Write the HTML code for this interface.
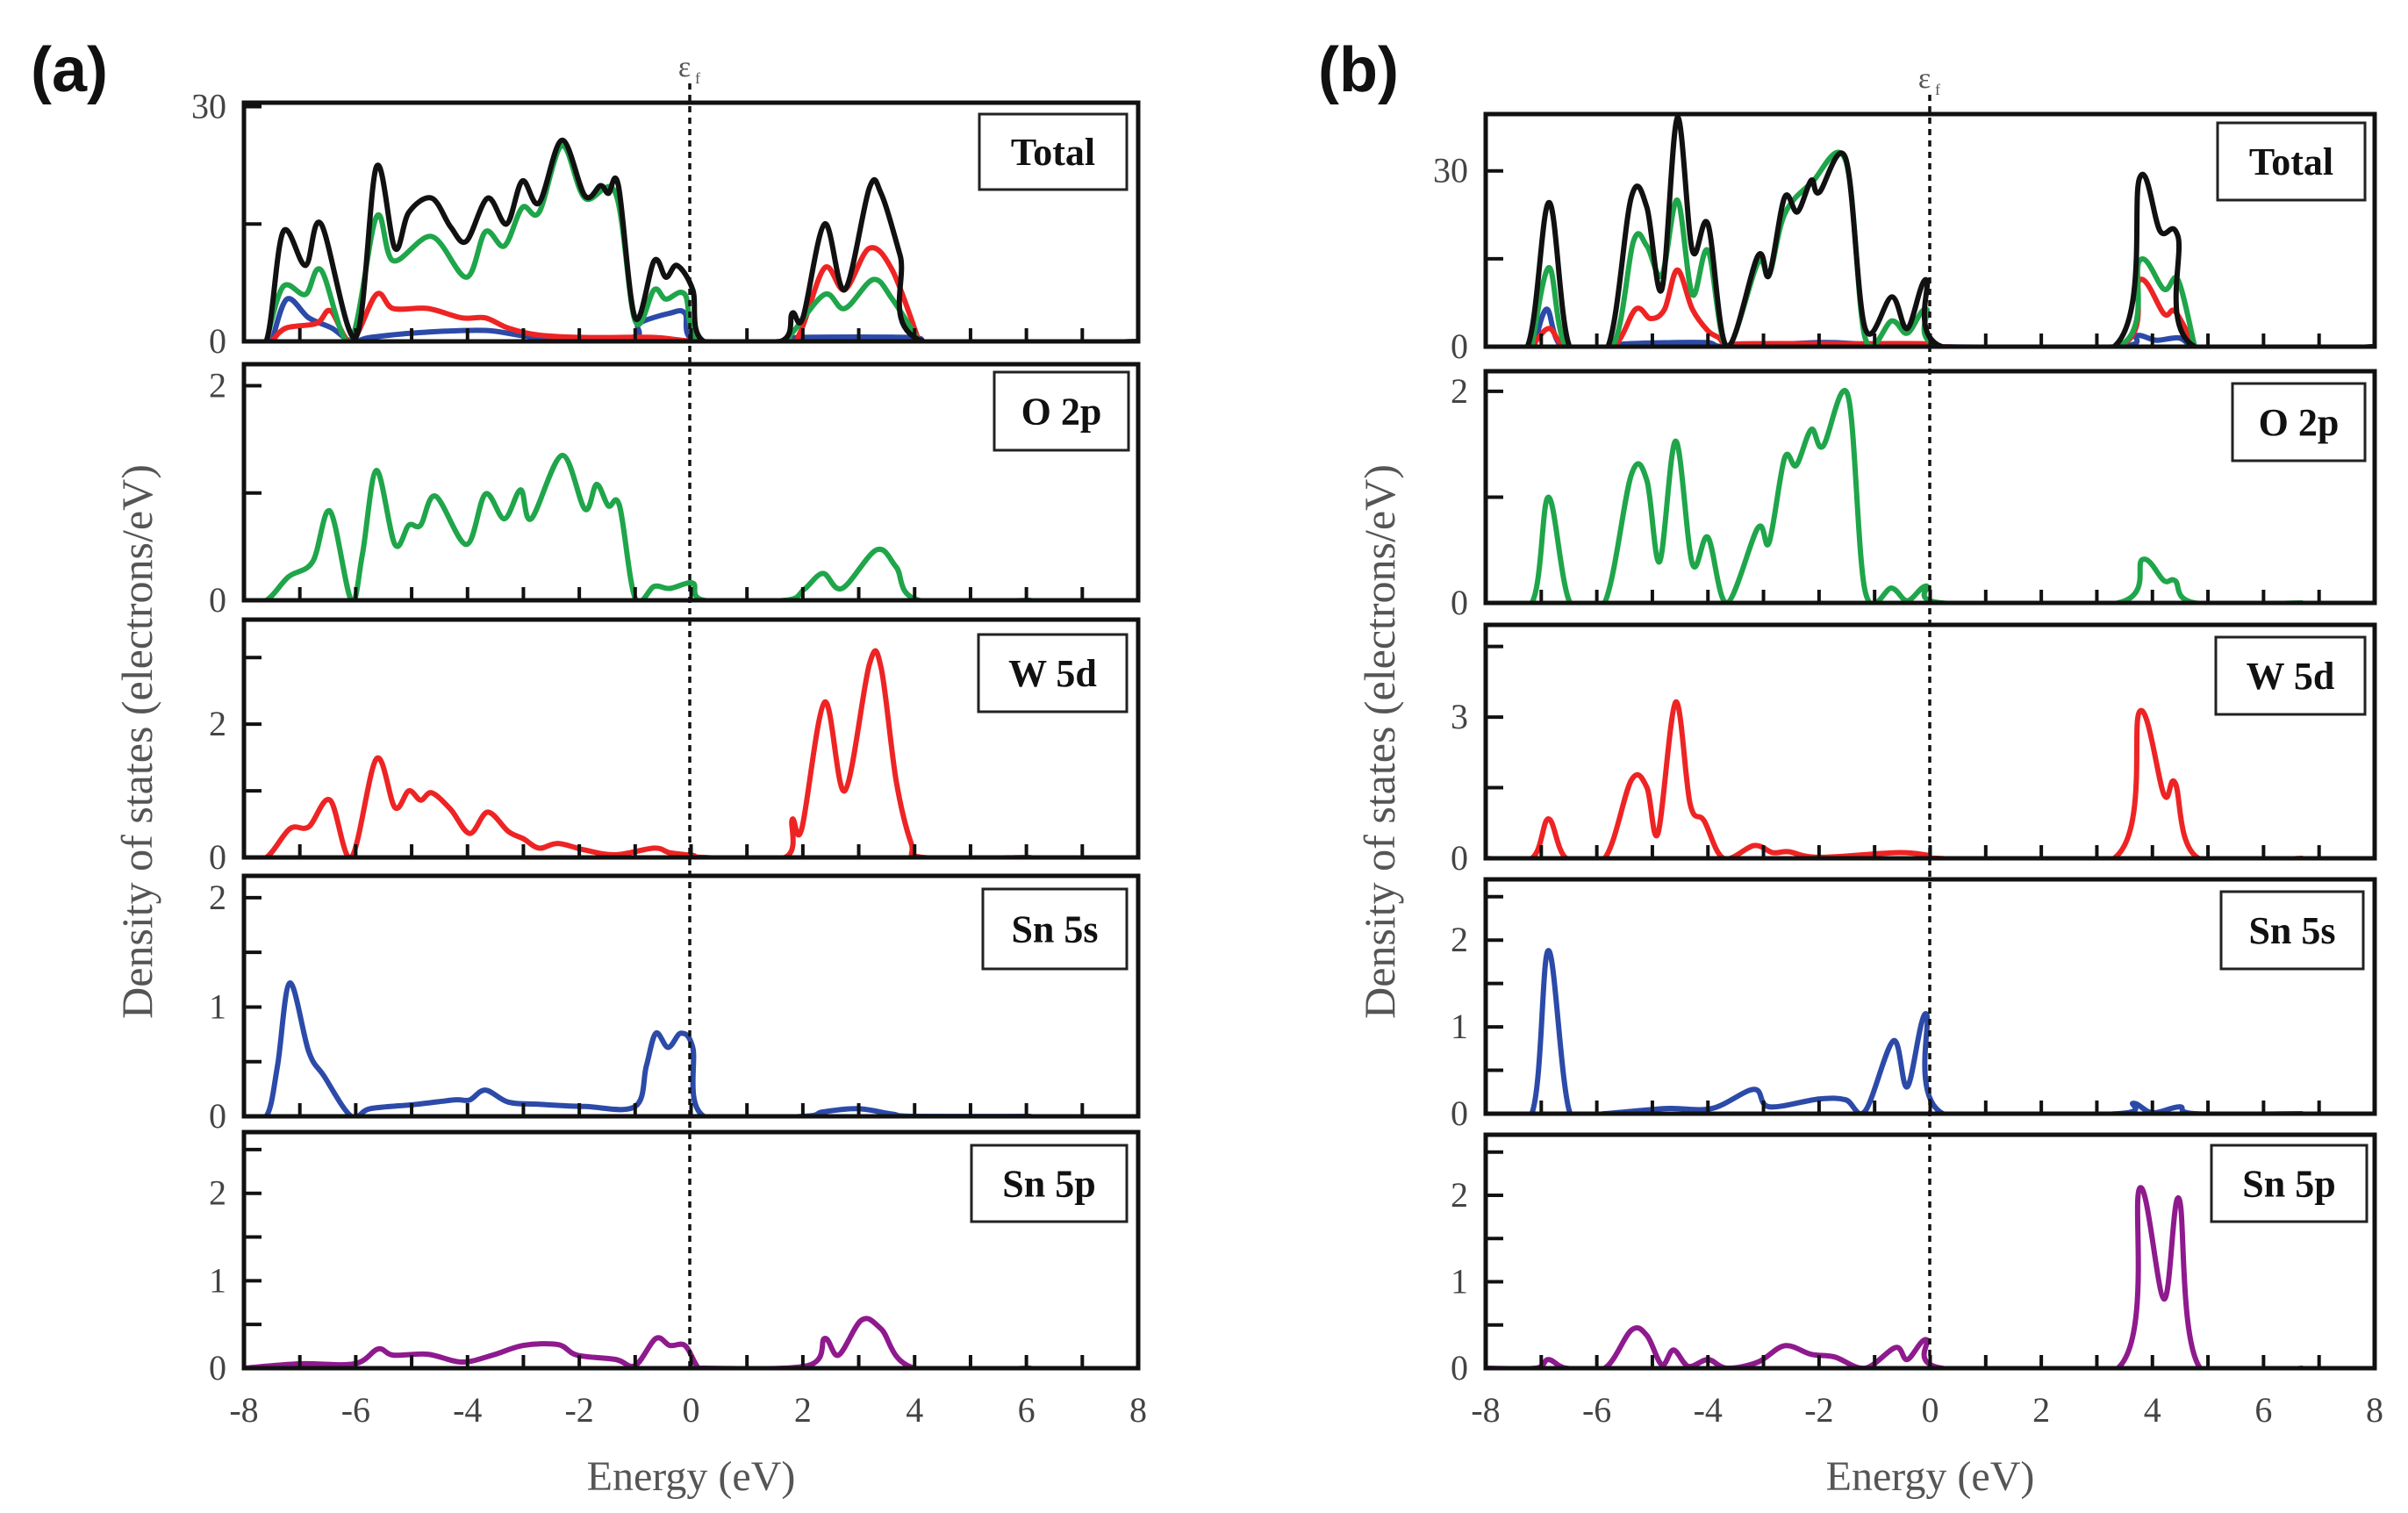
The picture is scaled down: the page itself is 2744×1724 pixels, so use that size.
<!DOCTYPE html>
<html><head><meta charset="utf-8"><style>
html,body{margin:0;padding:0;background:#fff;}
svg{display:block;}
text{font-family:"Liberation Serif",serif;}
text.tag{font-family:"Liberation Sans",sans-serif;}
</style></head><body>
<svg id="fig" width="2744" height="1724" viewBox="0 0 2744 1724" xmlns="http://www.w3.org/2000/svg"></svg>
<script>
// ---------- data: [energy eV, DOS] ----------
// Panel (a)
const aTotalBlack=[[-8,0],[-7.6,0],[-7.3,14],[-6.9,9.7],[-6.62,15],[-6.0,0.5],[-5.63,22.3],[-5.3,11.9],[-5.05,16.5],[-4.64,18.3],[-4.3,14.6],[-4.02,12.8],[-3.64,18.3],[-3.3,15],[-3.02,20.5],[-2.72,17.7],[-2.31,25.7],[-1.9,18.6],[-1.62,19.9],[-1.48,18.9],[-1.3,19.9],[-1.0,3.0],[-0.66,10.3],[-0.45,8.2],[-0.25,9.7],[0.03,6.6],[0.23,0],[1.6,0],[1.81,3.6],[2.0,3],[2.39,15],[2.75,6.6],[3.19,19.6],[3.4,18.9],[3.74,11],[4.15,0],[8,0]];
const aTotalGreen=[[-7.6,0],[-7.3,7],[-6.9,6],[-6.62,9.1],[-6.1,0],[-5.63,15.9],[-5.33,10.3],[-4.64,13.4],[-4.02,8.2],[-3.68,14],[-3.34,12.2],[-3.02,17.1],[-2.72,16.5],[-2.31,25],[-1.9,18.3],[-1.35,18.9],[-1.0,2.6],[-0.66,6.6],[-0.45,5.4],[-0.11,6],[0.17,0],[1.6,0],[1.81,1.1],[2.39,6],[2.75,4.2],[3.26,7.9],[3.6,5.4],[4.08,0]];
const aTotalRed=[[-7.5,0],[-7.25,1.7],[-6.7,2.3],[-6.45,3.9],[-6.08,0],[-5.63,6],[-5.33,4.2],[-4.71,4.2],[-4.1,3],[-3.68,3],[-3.27,1.7],[-2.72,0.8],[-1.9,0.5],[-0.66,0.5],[0.1,0],[1.68,0],[1.95,1.1],[2.39,9.4],[2.75,6.6],[3.19,11.9],[3.6,9.1],[4.08,0]];
const aTotalBlue=[[-7.5,0],[-7.23,5.4],[-6.84,3],[-6.43,1.7],[-6.08,0],[-5.74,0.5],[-4.91,1.1],[-3.68,1.4],[-2.72,0.5],[-1.07,0.5],[-0.93,2.3],[-0.38,3.6],[-0.11,3.6],[0.1,0],[1.7,0],[1.9,0.5],[3.9,0.5],[4.1,0]];
const aO2p=[[-8,0],[-7.6,0],[-7.2,0.22],[-6.77,0.36],[-6.46,0.83],[-6.08,0],[-5.88,0.43],[-5.63,1.21],[-5.3,0.52],[-5.05,0.7],[-4.84,0.7],[-4.57,0.97],[-4.02,0.52],[-3.68,0.99],[-3.34,0.76],[-3.05,1.03],[-2.86,0.76],[-2.31,1.35],[-1.9,0.85],[-1.69,1.08],[-1.48,0.88],[-1.28,0.88],[-1.0,0.02],[-0.66,0.13],[-0.38,0.11],[0.03,0.16],[0.23,0],[1.68,0],[2.02,0.1],[2.36,0.25],[2.7,0.11],[3.32,0.47],[3.67,0.31],[4.08,0],[6.07,0]];
const aW5d=[[-8,0],[-7.6,0],[-7.18,0.43],[-6.84,0.46],[-6.46,0.86],[-6.08,0],[-5.63,1.48],[-5.3,0.75],[-5.05,1.0],[-4.84,0.86],[-4.64,0.97],[-4.3,0.72],[-3.96,0.36],[-3.64,0.68],[-3.27,0.39],[-3.0,0.28],[-2.72,0.14],[-2.38,0.21],[-1.9,0.11],[-1.35,0.04],[-0.66,0.14],[-0.38,0.07],[0.03,0.03],[0.23,0],[1.68,0],[1.81,0.57],[1.98,0.43],[2.39,2.33],[2.75,1.0],[3.19,2.9],[3.4,2.85],[3.67,1.15],[3.94,0.21],[4.15,0],[6.07,0]];
const aSn5s=[[-8,0],[-7.6,0],[-7.4,0.46],[-7.18,1.22],[-6.84,0.59],[-6.57,0.37],[-6.08,0],[-5.74,0.07],[-4.91,0.11],[-4.23,0.15],[-3.96,0.15],[-3.68,0.24],[-3.27,0.13],[-2.72,0.11],[-1.9,0.09],[-1.0,0.09],[-0.8,0.46],[-0.63,0.76],[-0.41,0.63],[-0.18,0.76],[0.03,0.63],[0.23,0],[2.0,0],[2.36,0.04],[2.98,0.07],[3.6,0.02],[4.0,0],[6.07,0]];
const aSn5p=[[-8,0],[-7.0,0.05],[-6.02,0.05],[-5.6,0.22],[-5.33,0.15],[-4.71,0.16],[-4.1,0.07],[-3.55,0.15],[-3.0,0.26],[-2.38,0.27],[-2.04,0.15],[-1.35,0.1],[-1.0,0.03],[-0.63,0.34],[-0.38,0.26],[-0.11,0.26],[0.1,0.03],[0.23,0],[2.09,0.03],[2.39,0.34],[2.64,0.15],[3.05,0.55],[3.4,0.45],[4.0,0],[6.07,0]];
// Panel (b)
const bTotalBlack=[[-8,0],[-7.25,0],[-6.86,24.6],[-6.49,0],[-5.8,0],[-5.38,25.5],[-5.1,23.8],[-4.83,9.8],[-4.55,39.1],[-4.28,16.4],[-4.0,20.9],[-3.66,0],[-3.1,15.5],[-2.9,12.2],[-2.62,25.5],[-2.39,23],[-2.14,28.4],[-2.0,26.3],[-1.52,32.1],[-1.17,3.1],[-0.69,8.5],[-0.41,3.1],[-0.07,11.4],[0.21,0],[3.31,0],[3.77,28.8],[4.14,19.7],[4.46,18.8],[4.76,0],[8,0]];
const bTotalGreen=[[-7.17,0],[-6.86,13.5],[-6.55,0],[-5.72,0],[-5.34,18],[-5.1,17.2],[-4.83,12.2],[-4.55,25],[-4.28,8.9],[-4.0,16.4],[-3.66,0],[-3.1,14.3],[-2.9,12.2],[-2.62,22.6],[-2.14,27.9],[-1.52,31.7],[-1.17,1.5],[-0.69,4.4],[-0.41,2.3],[-0.07,6.4],[0.21,0],[3.38,0],[3.77,14.7],[4.21,9.8],[4.46,11.4],[4.76,0]];
const bTotalRed=[[-7.17,0],[-6.86,3.1],[-6.55,0],[-5.72,0],[-5.3,6.4],[-5.03,4.8],[-4.78,6.4],[-4.55,13.1],[-4.28,6.4],[-4.0,2.7],[-3.8,1.5],[-3.66,0],[-3.38,0.5],[-1.31,0.5],[-0.07,0.5],[0.21,0],[3.38,0],[3.77,11.4],[4.21,5.6],[4.41,6],[4.76,0]];
const bTotalBlue=[[-7.13,0],[-6.9,6.4],[-6.62,0],[-5.72,0],[-5.45,0.5],[-4.07,0.7],[-3.66,0],[-2.0,0.7],[-1.31,0.5],[0.21,0],[3.38,0],[3.72,1.9],[4.07,1.1],[4.48,1.5],[4.69,0]];
const bO2p=[[-8,0],[-7.17,0],[-6.87,1.0],[-6.48,0],[-5.86,0],[-5.38,1.21],[-5.1,1.16],[-4.87,0.39],[-4.58,1.53],[-4.28,0.37],[-4.0,0.62],[-3.66,0],[-3.1,0.71],[-2.9,0.57],[-2.62,1.37],[-2.41,1.3],[-2.14,1.64],[-1.93,1.48],[-1.48,1.96],[-1.17,0.11],[-0.69,0.14],[-0.41,0.02],[-0.07,0.16],[0.21,0],[3.38,0],[3.82,0.41],[4.21,0.21],[4.41,0.21],[4.76,0],[6.69,0]];
const bW5d=[[-8,0],[-7.17,0],[-6.87,0.84],[-6.55,0],[-5.86,0],[-5.38,1.66],[-5.1,1.51],[-4.9,0.53],[-4.58,3.32],[-4.32,1.15],[-4.07,0.8],[-3.72,0],[-3.17,0.27],[-2.83,0.12],[-2.55,0.14],[-2.0,0.02],[-0.62,0.12],[-0.07,0.07],[0.14,0],[3.31,0],[3.77,3.12],[4.21,1.35],[4.41,1.6],[4.83,0],[6.69,0]];
const bSn5s=[[-8,0],[-7.17,0],[-6.87,1.88],[-6.48,0],[-5.86,0],[-4.76,0.06],[-3.93,0.06],[-3.17,0.28],[-2.9,0.08],[-2.0,0.17],[-1.52,0.16],[-1.17,0.03],[-0.66,0.84],[-0.41,0.31],[-0.07,1.15],[0.23,0],[3.38,0],[3.66,0.12],[4.0,0.01],[4.49,0.08],[4.76,0],[6.69,0]];
const bSn5p=[[-8,0],[-7.1,0],[-6.87,0.1],[-6.55,0],[-5.86,0],[-5.38,0.44],[-5.1,0.38],[-4.83,0.04],[-4.62,0.21],[-4.35,0.02],[-4.0,0.1],[-3.66,0],[-3.1,0.07],[-2.62,0.26],[-2.14,0.16],[-1.72,0.13],[-1.17,0],[-0.62,0.24],[-0.41,0.1],[-0.07,0.33],[0.21,0],[3.38,0],[3.77,2.08],[4.21,0.8],[4.48,1.96],[4.86,0],[6.69,0]];
const xTickLabels=[-8,-6,-4,-2,0,2,4,6,8];

const NS="http://www.w3.org/2000/svg";
const svg=document.getElementById('fig');
function mk(tag,attrs,parent){const e=document.createElementNS(NS,tag);for(const k in attrs)e.setAttribute(k,attrs[k]);(parent||svg).appendChild(e);return e;}

const COL={black:'#111',green:'#1fa54a',red:'#ee2424',blue:'#2c4aa8',purple:'#8e1a8e'};

const panels=[
 {id:'a',x0:278,x1:1297,rows:[
  {name:'total',label:'Total',top:117,bot:389,max:30.5,ticks:[15,30],labels:[0,30],box:[1116,130,1284,216],series:[[aTotalBlue,'blue'],[aTotalRed,'red'],[aTotalGreen,'green'],[aTotalBlack,'black']]},
  {name:'o2p',label:'O 2p',top:415,bot:684,max:2.2,ticks:[1,2],labels:[0,2],box:[1133,424,1286,513],series:[[aO2p,'green']]},
  {name:'w5d',label:'W 5d',top:706,bot:977,max:3.57,ticks:[1,2,3],labels:[0,2],box:[1115,723,1284,811],series:[[aW5d,'red']]},
  {name:'sn5s',label:'Sn 5s',top:998,bot:1272,max:2.2,ticks:[0.5,1,1.5,2],labels:[0,1,2],box:[1120,1013,1284,1104],series:[[aSn5s,'blue']]},
  {name:'sn5p',label:'Sn 5p',top:1290,bot:1559,max:2.7,ticks:[0.5,1,1.5,2,2.5],labels:[0,1,2],box:[1107,1305,1284,1392],series:[[aSn5p,'purple']]}
 ],ylabX:157,tag:[79,'(a)'],ef:786},
 {id:'b',x0:1693,x1:2706,rows:[
  {name:'total',label:'Total',top:130,bot:395,max:39.7,ticks:[15,30],labels:[0,30],box:[2527,140,2695,228],series:[[bTotalBlue,'blue'],[bTotalRed,'red'],[bTotalGreen,'green'],[bTotalBlack,'black']]},
  {name:'o2p',label:'O 2p',top:423,bot:687,max:2.19,ticks:[1,2],labels:[0,2],box:[2544,437,2695,525],series:[[bO2p,'green']]},
  {name:'w5d',label:'W 5d',top:712,bot:978,max:4.96,ticks:[1.5,3,4.5],labels:[0,3],box:[2525,726,2695,814],series:[[bW5d,'red']]},
  {name:'sn5s',label:'Sn 5s',top:1002,bot:1269,max:2.7,ticks:[0.5,1,1.5,2,2.5],labels:[0,1,2],box:[2531,1016,2693,1104],series:[[bSn5s,'blue']]},
  {name:'sn5p',label:'Sn 5p',top:1293,bot:1559,max:2.7,ticks:[0.5,1,1.5,2,2.5],labels:[0,1,2],box:[2520,1305,2697,1392],series:[[bSn5p,'purple']]}
 ],ylabX:1573,tag:[1548,'(b)'],ef:2199}
];

function pathFrom(pts,xs,ys){
  const P=pts.map(p=>[xs(p[0]),ys(p[1])]);
  let d='M'+P[0][0].toFixed(1)+','+P[0][1].toFixed(1);
  for(let i=0;i<P.length-1;i++){
    const p0=P[i-1]||P[i],p1=P[i],p2=P[i+1],p3=P[i+2]||P[i+1];
    const c1=[p1[0]+(p2[0]-p0[0])/6,p1[1]+(p2[1]-p0[1])/6];
    const c2=[p2[0]-(p3[0]-p1[0])/6,p2[1]-(p3[1]-p1[1])/6];
    d+='C'+c1[0].toFixed(1)+','+c1[1].toFixed(1)+' '+c2[0].toFixed(1)+','+c2[1].toFixed(1)+' '+p2[0].toFixed(1)+','+p2[1].toFixed(1);
  }
  return d;
}

const defs=mk('defs',{});
panels.forEach(pn=>{
  const g=mk('g',{});
  
  
  const xs=e=>pn.x0+(e+8)/16*(pn.x1-pn.x0);
  pn.rows.forEach(r=>{
    const ys=v=>r.bot-v/r.max*(r.bot-r.top);
    const cid='clip-'+pn.id+'-'+r.name;
    const cp=mk('clipPath',{id:cid},defs);
    mk('rect',{x:pn.x0,y:r.top,width:pn.x1-pn.x0,height:r.bot-r.top},cp);
    const sg=mk('g',{'clip-path':'url(#'+cid+')'},g);
    r.series.forEach(s=>{
      const p=mk('path',{d:pathFrom(s[0],xs,ys),fill:'none',stroke:COL[s[1]],'stroke-width':6,'stroke-linejoin':'round','stroke-linecap':'round'},sg);
      
      
    });
    for(let e=-7;e<=7;e++){
      const t=mk('line',{x1:xs(e),x2:xs(e),y1:r.bot,y2:r.bot-15,stroke:'#111','stroke-width':4},g);
      
      
    }
    r.ticks.forEach(v=>{
      const t=mk('line',{x1:pn.x0,x2:pn.x0+20,y1:ys(v),y2:ys(v),stroke:'#111','stroke-width':4},g);
      
      
    });
    r.labels.forEach(v=>{
      const t=mk('text',{x:pn.x0-20,y:ys(v)+13,'text-anchor':'end','font-size':40,fill:'#444'},g);
      t.textContent=v;
      
      
    });
    const fr=mk('rect',{x:pn.x0,y:r.top,width:pn.x1-pn.x0,height:r.bot-r.top,fill:'none',stroke:'#111','stroke-width':5},g);
    
    
    const b=r.box;
    const lg=mk('g',{},g);
    
    
    mk('rect',{x:b[0],y:b[1],width:b[2]-b[0],height:b[3]-b[1],fill:'#fff',stroke:'#222','stroke-width':3},lg);
    const lt=mk('text',{x:(b[0]+b[2])/2,y:(b[1]+b[3])/2+15,'text-anchor':'middle','font-size':44,'font-weight':'bold',fill:'#111'},lg);
    lt.textContent=r.label;
  });
  xTickLabels.forEach(v=>{
    const t=mk('text',{x:xs(v),y:1620,'text-anchor':'middle','font-size':40,fill:'#444'},g);
    t.textContent=v;
    
    
  });
  const xl=mk('text',{x:(pn.x0+pn.x1)/2,y:1698,'text-anchor':'middle','font-size':48,fill:'#555'},g);
  xl.textContent='Energy (eV)';
  
  
  const yl=mk('text',{x:0,y:0,'text-anchor':'middle','font-size':50,fill:'#555',transform:'translate('+(pn.ylabX+16)+',845) rotate(-90)'},g);
  yl.textContent='Density of states (electrons/eV)';
  
  
  const fl=mk('line',{x1:pn.ef,x2:pn.ef,y1:pn.rows[0].top-22,y2:1559,stroke:'#111','stroke-width':3.5,'stroke-dasharray':'7 6'},g);
  
  
  const ef=mk('text',{x:pn.ef-6,y:pn.rows[0].top-30,'text-anchor':'middle','font-size':34,fill:'#555'},g);
  ef.textContent='ε';
  
  
  const efs=mk('text',{x:pn.ef+6,y:pn.rows[0].top-22,'font-size':18,fill:'#555'},g);
  efs.textContent='f';
  const tg=mk('text',{x:pn.tag[0],y:104,'text-anchor':'middle','font-size':72,'font-weight':'bold',fill:'#111','class':'tag'},g);
  tg.textContent=pn.tag[1];
  
  
});
</script>
</body></html>
